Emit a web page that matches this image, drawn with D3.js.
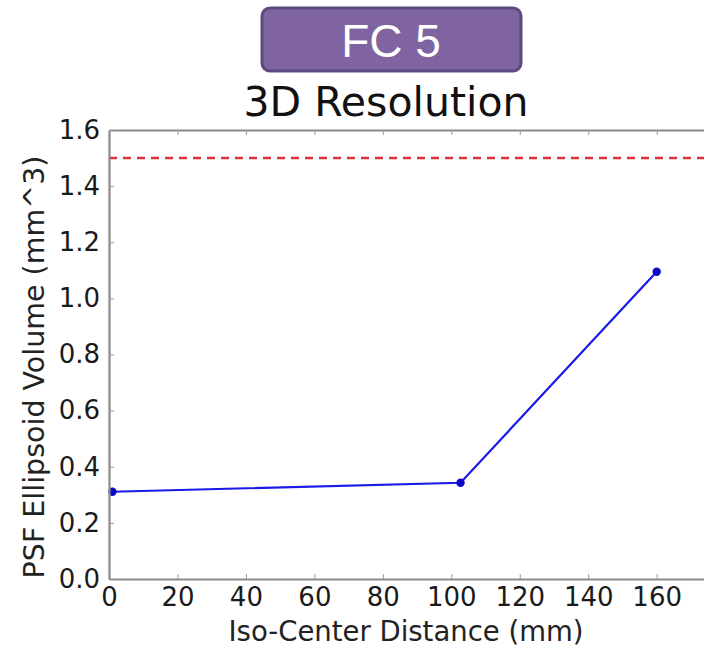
<!DOCTYPE html>
<html>
<head>
<meta charset="utf-8">
<script src="https://cdn.jsdelivr.net/npm/d3@7/dist/d3.min.js"></script>
<style>
  body { margin: 0; background: #fff; }
  svg { display: block; }
</style>
</head>
<body>
<div id="chart"></div>
<script>
    // values
    var distances = [1, 102.7, 160];
    var volumes = [0.311, 0.343, 1.095];
    var limitValue = 1.5;
    var xTicks = [0, 20, 40, 60, 80, 100, 120, 140, 160];
    var yTicks = [0.0, 0.2, 0.4, 0.6, 0.8, 1.0, 1.2, 1.4, 1.6];
    var badgeText = "FC 5";
    var titleText = "3D Resolution";
    var xLabel = "Iso-Center Distance (mm)";
    var yLabel = "PSF Ellipsoid Volume (mm^3)";

    var width = 704, height = 646;
    var plotLeft = 109, plotTop = 130, plotBottom = 579;
    var font = "'DejaVu Sans', sans-serif";

    var svg = d3.select("#chart").append("svg:svg")
        .attr("width", width)
        .attr("height", height);

    // plot runs off the right side of the picture, like the reference crop
    var x = d3.scaleLinear().domain([0, 180]).range([plotLeft, plotLeft + 180 * 3.423]);
    var y = d3.scaleLinear().domain([0, 1.6]).range([plotBottom, plotTop]);

    // badge
    svg.append("rect")
        .attr("x", 262).attr("y", 8)
        .attr("width", 259).attr("height", 63)
        .attr("rx", 8).attr("ry", 8)
        .attr("fill", "#8064a2")
        .attr("stroke", "#5d4a7f")
        .attr("stroke-width", 3);
    svg.append("text")
        .attr("x", 391).attr("y", 57)
        .attr("text-anchor", "middle")
        .attr("font-family", "Arial, 'Liberation Sans', sans-serif")
        .attr("font-size", 46)
        .attr("fill", "#fff")
        .text(badgeText);

    svg.append("text")
        .attr("x", 386).attr("y", 116)
        .attr("text-anchor", "middle")
        .attr("font-family", font)
        .attr("font-size", 41)
        .attr("fill", "#111")
        .text(titleText);

    // limit line
    svg.append("line")
        .attr("x1", x(0)).attr("x2", x(180))
        .attr("y1", y(limitValue)).attr("y2", y(limitValue))
        .attr("stroke", "#e0303a")
        .attr("stroke-width", 2.5)
        .attr("stroke-dasharray", "8,6");

    // series
    var pts = distances.map(function(d, i) { return {x: d, y: volumes[i]}; });
    svg.append("path")
        .datum(pts)
        .attr("d", d3.line()
            .x(function(d) { return x(d.x); })
            .y(function(d) { return y(d.y); }))
        .attr("fill", "none")
        .attr("stroke", "#1a1ae6")
        .attr("stroke-width", 2.2);
    svg.selectAll("circle.pt").data(pts).enter()
        .append("circle")
        .attr("class", "pt")
        .attr("cx", function(d) { return x(d.x); })
        .attr("cy", function(d) { return y(d.y); })
        .attr("r", 4.2)
        .attr("fill", "#0a0ac8");

    // axes, ticks pointing inward
    var xAxis = d3.axisBottom(x).tickValues(xTicks).tickSizeInner(-5).tickSizeOuter(0).tickPadding(9);
    var xTop = d3.axisTop(x).tickValues(xTicks).tickSizeInner(-5).tickSizeOuter(0).tickFormat("");
    var yAxis = d3.axisLeft(y).tickValues(yTicks).tickSizeInner(-5).tickSizeOuter(0).tickPadding(9)
        .tickFormat(d3.format(".1f"));

    var gx = svg.append("g").attr("transform", "translate(0," + plotBottom + ")").call(xAxis);
    var gt = svg.append("g").attr("transform", "translate(0," + plotTop + ")").call(xTop);
    var gy = svg.append("g").attr("transform", "translate(" + plotLeft + ",0)").call(yAxis);

    [gx, gt, gy].forEach(function(g) {
        g.select(".domain").attr("stroke", "#8a8a8a").attr("stroke-width", 2.2);
        g.selectAll(".tick line").attr("stroke", "#9a9a9a").attr("stroke-width", 1);
        g.selectAll(".tick text")
            .attr("font-family", font)
            .attr("font-size", 26)
            .attr("fill", "#1a1a1a");
    });

    svg.append("text")
        .attr("x", 406).attr("y", 641)
        .attr("text-anchor", "middle")
        .attr("font-family", font)
        .attr("font-size", 27.5)
        .attr("fill", "#222")
        .text(xLabel);

    svg.append("text")
        .attr("transform", "translate(44,367) rotate(-90)")
        .attr("text-anchor", "middle")
        .attr("font-family", font)
        .attr("font-size", 28.5)
        .attr("fill", "#222")
        .text(yLabel);
</script>
</body>
</html>
